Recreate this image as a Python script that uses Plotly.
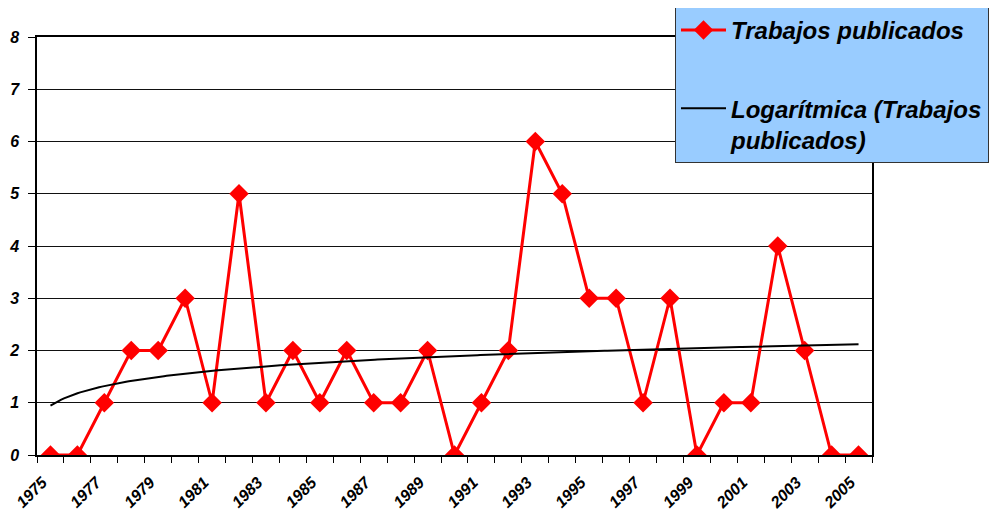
import numpy as np
import plotly.graph_objects as go

years = list(range(1975, 2006))
trabajos = [0, 0, 1, 2, 2, 3, 1, 5, 1, 2, 1, 2, 1, 1, 2, 0, 1, 2, 6, 5, 3, 3, 1, 3, 0, 1, 1, 4, 2, 0, 0]
y_ticks = [0, 1, 2, 3, 4, 5, 6, 7, 8]

idx = np.arange(1, len(years) + 1)
# logarithmic trendline (least squares on ln x), as Excel computes it
a, b = np.polyfit(np.log(idx), np.array(trabajos, dtype=float), 1)
xt = np.linspace(1, len(years), 300)
yt = a * np.log(xt) + b

font_fam = "Liberation Sans, Arial, sans-serif"

fig = go.Figure()
fig.add_trace(go.Scatter(
    x=idx, y=trabajos, mode="lines+markers", name="<b><i>Trabajos publicados</i></b>",
    line=dict(color="#FF0000", width=3),
    marker=dict(symbol="diamond", size=15, color="#FF0000"),
    legendgroup="a",
))
fig.add_trace(go.Scatter(
    x=xt, y=yt, mode="lines", name="<b><i>Logarítmica (Trabajos<br>publicados)</i></b>",
    line=dict(color="#000000", width=2),
    legendgroup="b",
))

fig.update_layout(
    width=989, height=511,
    margin=dict(l=29, r=125, t=29, b=64, autoexpand=False),
    paper_bgcolor="white", plot_bgcolor="white",
    font=dict(family=font_fam, color="black"),
    showlegend=True,
    legend=dict(
        x=(675 - 37) / 835, y=(455 - 7) / 418, xanchor="left", yanchor="top",
        bgcolor="#99CCFF", bordercolor="#333333", borderwidth=1,
        font=dict(family=font_fam, size=24, color="black"),
        tracegroupgap=44, traceorder="grouped", valign="top",
        itemwidth=45,
    ),
    xaxis=dict(
        range=[0.5, len(years) + 0.5], automargin=False,
        tickvals=list(idx[::2]), ticktext=[f"<b><i>{y}</i></b>" for y in years[::2]],
        tickangle=-45, ticks="", showgrid=False, zeroline=False,
        showline=True, linecolor="black", linewidth=1.5, mirror=True,
        tickfont=dict(size=16, family=font_fam),
        ticklabelshift=-8, ticklabelstandoff=10,
        minor=dict(tick0=0.5, dtick=1, ticks="outside", ticklen=6, tickcolor="black", showgrid=False),
    ),
    yaxis=dict(
        range=[0, 8], automargin=False,
        tickvals=y_ticks, ticktext=[f"<b><i>{v}</i></b>" for v in y_ticks],
        ticks="outside", ticklen=7, tickcolor="black",
        showgrid=True, gridcolor="#111111", gridwidth=1, zeroline=False,
        showline=True, linecolor="black", linewidth=1.5, mirror=True,
        tickfont=dict(size=16, family=font_fam),
        ticklabelstandoff=6,
    ),
)

fig.write_html("out.html")
